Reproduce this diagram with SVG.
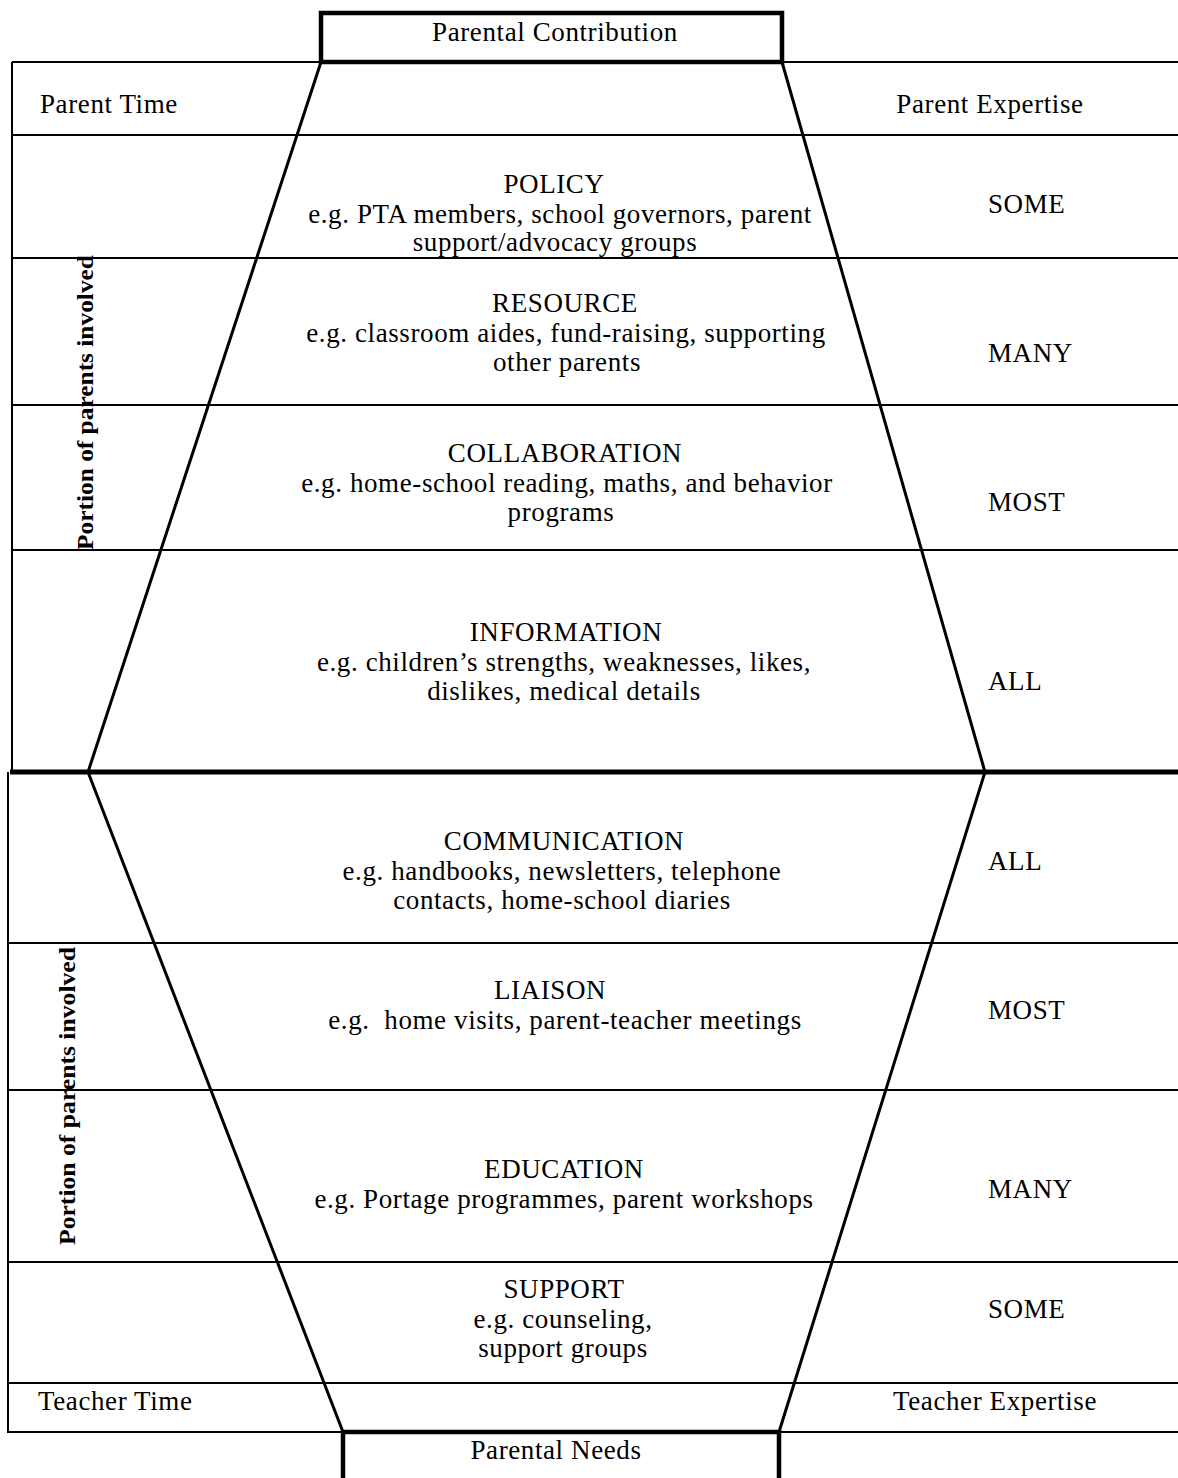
<svg xmlns="http://www.w3.org/2000/svg" width="1178" height="1478" viewBox="0 0 1178 1478">
<style>
  text { font-family: "Liberation Serif", "Times New Roman", serif; font-size: 27px; letter-spacing: 0.6px; fill: #000; }
  .c { text-anchor: middle; }
  .v { font-weight: bold; font-size: 23px; letter-spacing: 0; }
  .grid { stroke: #000; stroke-width: 2; fill: none; }
  .thick { stroke: #000; stroke-width: 5; fill: none; }
  .edge { stroke: #000; stroke-width: 3; fill: none; }
  .box { stroke: #000; stroke-width: 4.5; fill: #fff; }
</style>
<rect width="1178" height="1478" fill="#fff"/>
<g id="connectors">
  <path class="grid" d="M12,62 H1178 M12,62 V772 M8,772 V1432 H1178"/>
  <path class="grid" d="M12,135 H1178 M12,258 H1178 M12,405 H1178 M12,550 H1178"/>
  <path class="grid" d="M8,943 H1178 M8,1090 H1178 M8,1262 H1178 M8,1383 H1178"/>
  <path class="thick" d="M10,772 H1178"/>
  <path class="edge" d="M321,62 L88,772 L343,1432"/>
  <path class="edge" d="M782,62 L985,772 L779,1432"/>
</g>
<g id="top-box">
  <rect class="box" x="321" y="13" width="461" height="49"/>
  <text class="c" x="555" y="41">Parental Contribution</text>
</g>
<g id="bottom-box">
  <path class="box" d="M343,1482 V1432 H779 V1482"/>
  <text class="c" x="556" y="1459">Parental Needs</text>
</g>
<g id="headers">
  <text x="40" y="113">Parent Time</text>
  <text class="c" x="990" y="113">Parent Expertise</text>
  <text x="38" y="1410">Teacher Time</text>
  <text class="c" x="995" y="1410">Teacher Expertise</text>
</g>
<g id="axis-labels">
  <text class="v" transform="translate(93,550) rotate(-90)" textLength="295" lengthAdjust="spacingAndGlyphs">Portion of parents involved</text>
  <text class="v" transform="translate(75,1245) rotate(-90)" textLength="298" lengthAdjust="spacingAndGlyphs">Portion of parents involved</text>
</g>
<g id="policy">
  <text class="c" x="554" y="193">POLICY</text>
  <text class="c" x="560" y="223">e.g. PTA members, school governors, parent</text>
  <text class="c" x="555" y="251">support/advocacy groups</text>
  <text x="988" y="213">SOME</text>
</g>
<g id="resource">
  <text class="c" x="565" y="312">RESOURCE</text>
  <text class="c" x="566" y="342">e.g. classroom aides, fund-raising, supporting</text>
  <text class="c" x="567" y="371">other parents</text>
  <text x="988" y="362">MANY</text>
</g>
<g id="collaboration">
  <text class="c" x="565" y="462">COLLABORATION</text>
  <text class="c" x="567" y="492">e.g. home-school reading, maths, and behavior</text>
  <text class="c" x="561" y="521">programs</text>
  <text x="988" y="511">MOST</text>
</g>
<g id="information">
  <text class="c" x="566" y="641">INFORMATION</text>
  <text class="c" x="564" y="671">e.g. children’s strengths, weaknesses, likes,</text>
  <text class="c" x="564" y="700">dislikes, medical details</text>
  <text x="988" y="690">ALL</text>
</g>
<g id="communication">
  <text class="c" x="564" y="850">COMMUNICATION</text>
  <text class="c" x="562" y="880">e.g. handbooks, newsletters, telephone</text>
  <text class="c" x="562" y="909">contacts, home-school diaries</text>
  <text x="988" y="870">ALL</text>
</g>
<g id="liaison">
  <text class="c" x="550" y="999">LIAISON</text>
  <text class="c" x="565" y="1029" xml:space="preserve">e.g.  home visits, parent-teacher meetings</text>
  <text x="988" y="1019">MOST</text>
</g>
<g id="education">
  <text class="c" x="564" y="1178">EDUCATION</text>
  <text class="c" x="564" y="1208">e.g. Portage programmes, parent workshops</text>
  <text x="988" y="1198">MANY</text>
</g>
<g id="support">
  <text class="c" x="564" y="1298">SUPPORT</text>
  <text class="c" x="563" y="1328">e.g. counseling,</text>
  <text class="c" x="563" y="1357">support groups</text>
  <text x="988" y="1318">SOME</text>
</g>
</svg>
